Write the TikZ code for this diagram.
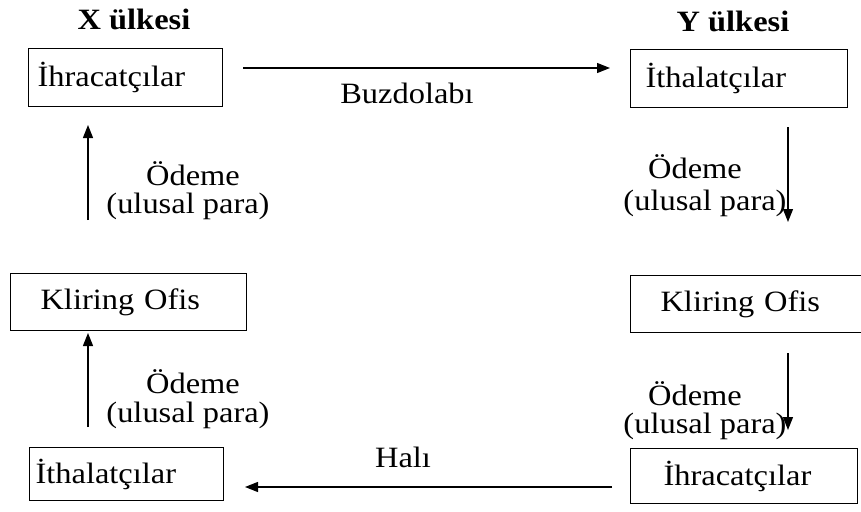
\documentclass[tikz,border=0pt]{standalone}
\usepackage{fontspec}
\setmainfont{Liberation Serif}[FakeStretch=1.1]
\usetikzlibrary{arrows.meta}
\begin{document}
\begin{tikzpicture}[x=1pt,y=-1pt,
  every node/.style={font=\fontsize{29.5}{34}\selectfont},
  box/.style={draw, line width=1.1pt, anchor=north west, inner ysep=0pt, align=left},
  lbl/.style={inner sep=0pt, anchor=base},
  arr/.style={line width=1.3pt, -{Triangle[length=13pt,width=10pt]}}]
\useasboundingbox (0,0) rectangle (861,511);
\clip (0,0) rectangle (861,511);

% titles
\node[lbl] (xt) at (134,30) {\bfseries X ülkesi};
\node[lbl] (yt) at (733,32) {\bfseries Y ülkesi};

% boxes
\node[box, inner xsep=9pt, text width=176pt, minimum height=58pt] (xexp) at (28,48) {İhracatçılar};
\node[box, inner xsep=15pt, text width=187pt, minimum height=58pt] (yimp) at (630,49) {İthalatçılar};
\node[box, inner xsep=30pt, text width=176pt, minimum height=57pt] (xkl) at (10,273) {Kliring Ofis};
\node[box, inner xsep=30pt, text width=200pt, minimum height=57pt] (ykl) at (630,275) {Kliring Ofis};
\node[box, inner xsep=33pt, text width=161pt, minimum height=55pt] (yexp) at (630,448) {İhracatçılar};
\node[box, inner xsep=6pt, text width=182pt, minimum height=53pt] (ximp) at (29,447) {İthalatçılar};

% arrow end points
\coordinate (t1) at (243,68);  \coordinate (t2) at (610,68);
\coordinate (b1) at (612,487); \coordinate (b2) at (245,487);
\coordinate (lu1) at (88,220); \coordinate (lu2) at (88,125);
\coordinate (ll1) at (88,427); \coordinate (ll2) at (88,333);
\coordinate (ru1) at (788,127); \coordinate (ru2) at (788,222);
\coordinate (rl1) at (788,353); \coordinate (rl2) at (788,430);

\draw[arr] (t1) -- (t2);
\draw[arr] (b1) -- (b2);
\draw[arr] (lu1) -- (lu2);
\draw[arr] (ll1) -- (ll2);
\draw[arr] (ru1) -- (ru2);
\draw[arr] (rl1) -- (rl2);

% labels
\node[lbl] (buz) at (407,103) {Buzdolabı};
\node[lbl] (hali) at (403,467) {Halı};
\node[lbl] (lu3) at (193,185) {Ödeme};
\node[lbl] (lu4) at (188,213) {(ulusal para)};
\node[lbl] (ll3) at (193,393) {Ödeme};
\node[lbl] (ll4) at (188,422) {(ulusal para)};
\node[lbl] (ru3) at (695,178) {Ödeme};
\node[lbl] (ru4) at (705,210) {(ulusal para)};
\node[lbl] (rl3) at (695,405) {Ödeme};
\node[lbl] (rl4) at (705,433) {(ulusal para)};
\end{tikzpicture}
\end{document}
